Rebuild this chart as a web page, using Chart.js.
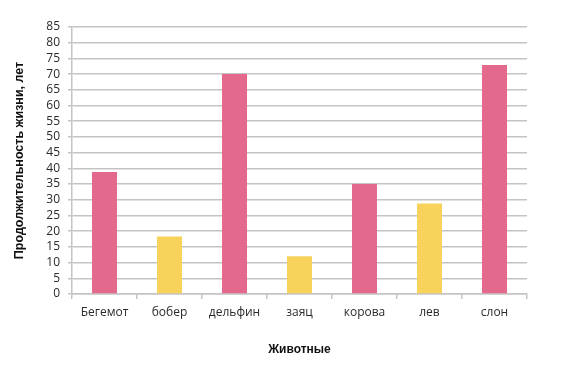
<!DOCTYPE html>
<html>
<head>
<meta charset="utf-8">
<script src="https://cdn.jsdelivr.net/npm/chart.js@4"></script>
<style>
  html, body { margin: 0; padding: 0; background: #ffffff; }
  #wrap { width: 581px; height: 367px; }
</style>
</head>
<body>
<div id="wrap"><canvas id="c" width="581" height="367"></canvas></div>
<script>
// Продолжительность жизни животных
const categories = ['Бегемот', 'бобер', 'дельфин', 'заяц', 'корова', 'лев', 'слон'];
const lifespan = [38.8, 18.3, 70, 12, 35, 28.8, 72.9];
const yTicks = [0, 5, 10, 15, 20, 25, 30, 35, 40, 45, 50, 55, 60, 65, 70, 75, 80, 85];

const pink = '#e36a8c';
const yellow = '#f8d35c';
const gridColor = '#c4c4c4';
const tickFont = { family: 'Open Sans', size: 12 };
const titleFont = { family: 'Liberation Sans', size: 12, weight: 'bold' };

new Chart(document.getElementById('c'), {
  type: 'bar',
  data: {
    labels: categories,
    datasets: [{
      data: lifespan,
      backgroundColor: ctx => (ctx.dataIndex % 2 === 0 ? pink : yellow),
      borderWidth: 0,
      barPercentage: 0.385,
      categoryPercentage: 1
    }]
  },
  options: {
    responsive: false,
    animation: false,
    layout: { padding: { top: 27, right: 54, bottom: 6, left: 0 } },
    plugins: { legend: { display: false }, tooltip: { enabled: false } },
    scales: {
      x: {
        offset: true,
        grid: {
          offset: true,
          drawOnChartArea: false,
          drawTicks: true,
          tickLength: 5,
          color: gridColor,
          lineWidth: 1.5
        },
        border: { color: gridColor, width: 1.5 },
        ticks: { color: '#2a2a2a', font: tickFont, padding: 6, maxRotation: 0 },
        title: {
          display: true,
          text: 'Животные',
          color: '#111111',
          font: titleFont,
          padding: { top: 14, bottom: 4 }
        },
        afterFit: s => { s.height = 367 - 6 - 294; }
      },
      y: {
        min: 0,
        max: 85,
        afterBuildTicks: s => { s.ticks = yTicks.map(v => ({ value: v })); },
        grid: {
          color: gridColor,
          lineWidth: 1.5,
          drawTicks: true,
          tickLength: 4
        },
        border: { color: gridColor, width: 1.5 },
        ticks: { color: '#2a2a2a', font: tickFont, padding: 8, autoSkip: false },
        title: {
          display: true,
          text: 'Продолжительность жизни, лет',
          color: '#111111',
          font: { family: 'Liberation Sans', size: 12.5, weight: 'bold' },
          padding: { top: 12, bottom: 4 }
        },
        afterFit: s => { s.width = 72; }
      }
    }
  }
});
</script>
</body>
</html>
